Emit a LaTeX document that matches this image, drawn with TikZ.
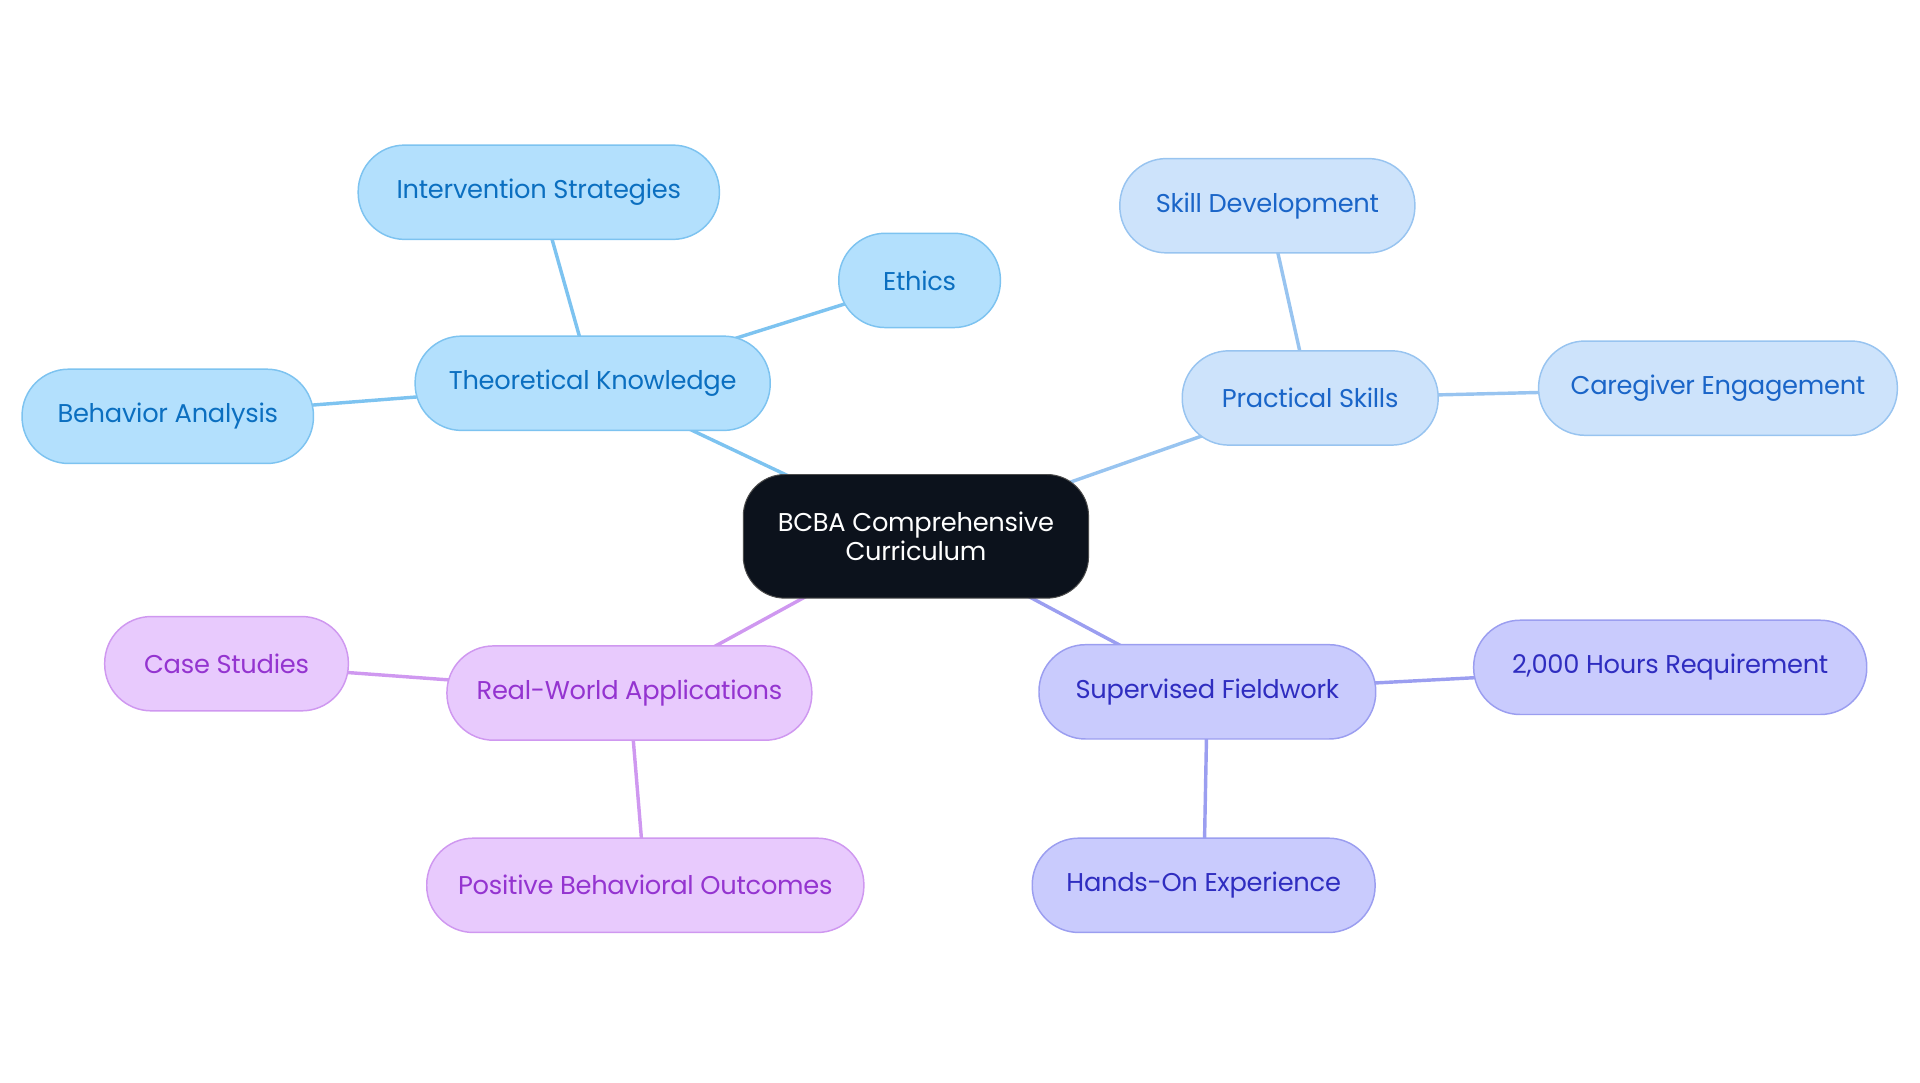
\documentclass[tikz,border=0pt]{standalone}
\usepackage{fontspec}
\setmainfont{Poppins}
\usetikzlibrary{backgrounds}
\definecolor{bF}{HTML}{B3E0FD}\definecolor{bS}{HTML}{7DC3F0}\definecolor{bT}{HTML}{0B6FC0}
\definecolor{lF}{HTML}{CDE3FB}\definecolor{lS}{HTML}{98C4F0}\definecolor{lT}{HTML}{1A65C8}
\definecolor{pF}{HTML}{C9CBFD}\definecolor{pS}{HTML}{9B9EF0}\definecolor{pT}{HTML}{2F2DC0}
\definecolor{vF}{HTML}{E8CAFD}\definecolor{vS}{HTML}{CF98F0}\definecolor{vT}{HTML}{9434D0}
\definecolor{ctr}{HTML}{0C121C}
\begin{document}
\begin{tikzpicture}[x=0.5pt,y=-0.5pt,
 box/.style={rounded corners=19pt,line width=0.6pt,minimum height=38.5pt,inner sep=0pt,font=\fontsize{10.5}{12}\selectfont\addfontfeature{LetterSpace=-1}},
 B/.style={box,fill=bF,draw=bS,text=bT},
 L/.style={box,fill=lF,draw=lS,text=lT},
 P/.style={box,fill=pF,draw=pS,text=pT},
 V/.style={box,fill=vF,draw=vS,text=vT},
 e/.style={line width=1.4pt}]
\useasboundingbox (0,0) rectangle (1568,884);
\node[fill=ctr,draw=black!70,rounded corners=17pt,minimum width=141pt,minimum height=50.5pt,text=white,align=center,font=\fontsize{10.5}{11.5}\selectfont\addfontfeature{LetterSpace=-1}] (c) at (748,438) {BCBA Comprehensive\\Curriculum};
\node[B,minimum width=145pt] (tk) at (484,313) {Theoretical Knowledge};
\node[B,minimum width=147.5pt] (is) at (440,157) {Intervention Strategies};
\node[B,minimum width=66pt] (et) at (751,229) {Ethics};
\node[B,minimum width=119pt] (ba) at (137,340) {Behavior Analysis};
\node[L,minimum width=104.5pt] (ps) at (1070,325) {Practical Skills};
\node[L,minimum width=120.5pt] (sd) at (1035,168) {Skill Development};
\node[L,minimum width=146.5pt] (ce) at (1403,317) {Caregiver Engagement};
\node[P,minimum width=137.5pt] (sf) at (986,565) {Supervised Fieldwork};
\node[P,minimum width=160.5pt] (hr) at (1364,545) {2,000 Hours Requirement};
\node[P,minimum width=140pt] (ho) at (983,723) {Hands-On Experience};
\node[V,minimum width=149pt] (rw) at (514,566) {Real-World Applications};
\node[V,minimum width=99.5pt] (cs) at (185,542) {Case Studies};
\node[V,minimum width=178.5pt] (pb) at (527,723) {Positive Behavioral Outcomes};
\begin{scope}[on background layer]
\draw[e,draw=bS] (c.center)--(tk.center) (tk.center)--(is.center) (tk.center)--(et.center) (tk.center)--(ba.center);
\draw[e,draw=lS] (c.center)--(ps.center) (ps.center)--(sd.center) (ps.center)--(ce.center);
\draw[e,draw=pS] (c.center)--(sf.center) (sf.center)--(hr.center) (sf.center)--(ho.center);
\draw[e,draw=vS] (c.center)--(rw.center) (rw.center)--(cs.center) (rw.center)--(pb.center);
\end{scope}
\end{tikzpicture}
\end{document}
